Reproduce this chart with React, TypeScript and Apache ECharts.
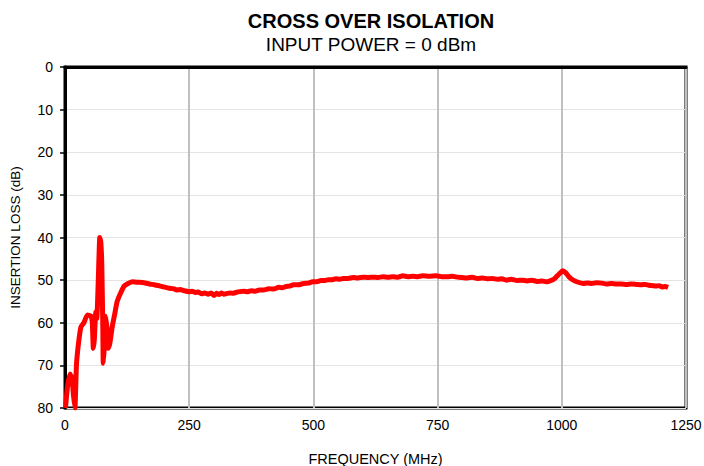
import React, { useEffect, useRef } from "react";
import * as echarts from "echarts";

const titleText = "CROSS OVER ISOLATION";
const subtitleText = "INPUT POWER = 0 dBm";
const xName = "FREQUENCY (MHz)";
const yName = "INSERTION LOSS (dB)";
const xTicks = [0, 250, 500, 750, 1000, 1250];
const yTicks = [0, 10, 20, 30, 40, 50, 60, 70, 80];

const freq = [
  1, 5, 10, 14, 17, 20, 23, 27, 32, 38, 45, 52, 55, 57, 59, 62, 64, 67, 70, 72, 74, 76, 77, 79, 82, 85, 87, 90, 95,
  100, 105, 112, 119, 127, 136, 147, 159, 170, 180, 195, 210, 218, 225, 232, 240, 250, 256, 262, 268, 275, 281,
  288, 294, 300, 305, 310, 315, 320, 327, 333, 338, 344, 352, 360, 367, 375, 383, 391, 400, 410, 420, 430, 437,
  445, 452, 460, 470, 480, 490, 498, 507, 515, 522, 530, 537, 545, 552, 560, 570, 580, 590, 600, 610, 620, 630,
  640, 650, 660, 670, 680, 690, 700, 710, 720, 733, 747, 758, 770, 780, 790, 800, 810, 820, 830, 840, 850, 860,
  870, 880, 888, 898, 910, 920, 930, 940, 950, 960, 969, 980, 986, 995, 1002, 1008, 1015, 1023, 1033, 1043, 1052,
  1060, 1070, 1080, 1090, 1100, 1110, 1120, 1130, 1140, 1150, 1160, 1168, 1175, 1183, 1190, 1196, 1202, 1208, 1214,
];
const loss = [
  80, 75, 72, 73, 77, 80, 70, 65, 61, 60, 58.2, 58.4, 60, 66, 64, 57.5, 59, 50, 40.0, 41, 46, 60, 69.5, 66, 58.5,
  62, 66, 65, 61, 58, 55.0, 53, 51.4, 50.8, 50.4, 50.5, 50.6, 50.9, 51.1, 51.5, 51.9, 52.0, 52.3, 52.2, 52.5, 52.7,
  52.6, 52.9, 52.8, 53.2, 53.0, 53.3, 53.0, 53.6, 53.1, 53.4, 53.0, 53.3, 53.1, 53.0, 53.1, 52.9, 52.7, 52.6, 52.7,
  52.5, 52.6, 52.3, 52.3, 52.0, 52.1, 51.7, 51.8, 51.5, 51.4, 51.1, 51.1, 50.8, 50.7, 50.4, 50.4, 50.1, 50.1, 49.9,
  49.9, 49.7, 49.8, 49.6, 49.6, 49.4, 49.5, 49.3, 49.4, 49.3, 49.4, 49.2, 49.3, 49.2, 49.3, 49.0, 49.2, 49.1, 49.2,
  49.0, 49.1, 49.0, 49.2, 49.2, 49.1, 49.3, 49.4, 49.5, 49.3, 49.6, 49.5, 49.7, 49.6, 49.8, 49.7, 50.0, 49.8, 50.1,
  50.0, 50.2, 50.0, 50.3, 50.2, 50.4, 50.0, 49.6, 48.5, 47.8, 48.3, 49.3, 50.0, 50.5, 50.8, 50.7, 50.8, 50.6, 50.7,
  50.9, 50.8, 50.9, 50.9, 51.0, 50.9, 51.0, 51.1, 51.0, 51.2, 51.3, 51.4, 51.3, 51.6, 51.5, 51.7,
];

const FONT = "Liberation Sans, Arial, sans-serif";

export default function App() {
  const ref = useRef<HTMLDivElement>(null);
  useEffect(() => {
    if (!ref.current) return;
    const chart = echarts.init(ref.current, undefined, { renderer: "svg" });
    chart.setOption({
      animation: false,
      backgroundColor: "#ffffff",
      title: [
        {
          text: titleText,
          left: 366,
          top: 6,
          textAlign: "center",
          textStyle: { fontFamily: FONT, fontSize: 20, fontWeight: "bold", color: "#000" },
        },
        {
          text: subtitleText,
          left: 366,
          top: 30,
          textAlign: "center",
          textStyle: { fontFamily: FONT, fontSize: 19, fontWeight: "normal", color: "#000" },
        },
      ],
      grid: {
        left: 65,
        top: 67,
        right: 18,
        bottom: 58,
        outerBoundsMode: "none",
        containLabel: false,
        show: true,
        borderColor: "#000",
        borderWidth: 3,
        backgroundColor: "transparent",
      },
      xAxis: {
        type: "value",
        min: xTicks[0],
        max: xTicks[xTicks.length - 1],
        interval: 250,
        name: xName,
        nameLocation: "middle",
        nameGap: 43,
        nameTextStyle: { fontFamily: FONT, fontSize: 14.5, color: "#000" },
        axisLine: { show: true, lineStyle: { color: "#000", width: 3 } },
        axisTick: { show: false },
        axisLabel: { fontFamily: FONT, fontSize: 14, color: "#000", margin: 10, formatter: (v: number) => String(v) },
        splitLine: { show: true, lineStyle: { color: "#c0c0c0", width: 2 } },
      },
      yAxis: {
        type: "value",
        inverse: true,
        min: yTicks[0],
        max: yTicks[yTicks.length - 1],
        interval: 10,
        name: yName,
        nameLocation: "middle",
        nameGap: 43,
        nameTextStyle: { fontFamily: FONT, fontSize: 13.5, color: "#000" },
        axisLine: { show: true, lineStyle: { color: "#000", width: 3 } },
        axisTick: { show: true, inside: false, length: 5, lineStyle: { color: "#000", width: 1.5 } },
        axisLabel: { fontFamily: FONT, fontSize: 14, color: "#000", margin: 12, formatter: (v: number) => String(v) },
        splitLine: { show: true, lineStyle: { color: "#e4e4e4", width: 1 } },
      },
      series: [
        {
          type: "line",
          data: freq.map((f, i) => [f, loss[i]]),
          showSymbol: false,
          smooth: 0.15,
          clip: true,
          lineStyle: { color: "#ff0000", width: 5 },
          z: 3,
        },
      ],
    });
    return () => chart.dispose();
  }, []);
  return <div ref={ref} style={{ width: 704, height: 466, position: "absolute", left: 0, top: 0 }} />;
}
